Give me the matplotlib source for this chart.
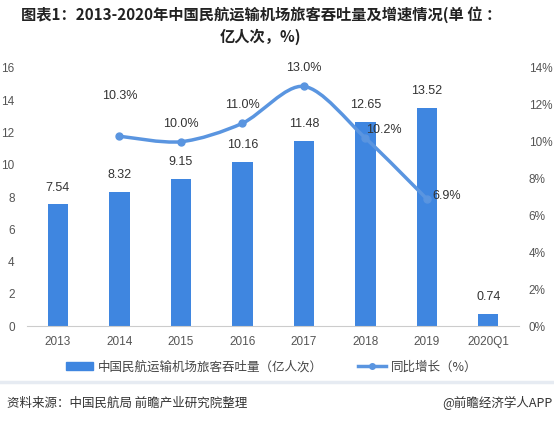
import numpy as np
import matplotlib.pyplot as plt
from matplotlib.path import Path
from matplotlib.patches import PathPatch, Patch
from matplotlib.lines import Line2D

plt.rcParams['font.family'] = ['Noto Sans CJK SC', 'DejaVu Sans']

# 数据
years = ['2013', '2014', '2015', '2016', '2017', '2018', '2019', '2020Q1']
throughput = [7.54, 8.32, 9.15, 10.16, 11.48, 12.65, 13.52, 0.74]
growth_idx = [1, 2, 3, 4, 5, 6]
growth = [10.3, 10.0, 11.0, 13.0, 10.2, 6.9]

BAR_COLOR = '#3f86e0'
LINE_COLOR = '#5a95e0'
TICK_COLOR = '#555555'
NUM_FONT = ['Liberation Sans', 'DejaVu Sans']

fig = plt.figure(figsize=(5.54, 4.22), dpi=100)
ax = fig.add_axes([0.049, 0.227, 0.888, 0.612])
ax2 = ax.twinx()

x = np.arange(len(years))
ax.bar(x, throughput, width=0.33, color=BAR_COLOR, zorder=2)
for xi, v in zip(x, throughput):
    ax.text(xi, v + 1.05, f'{v:.2f}', ha='center', va='center', fontsize=9,
            color='#333333', family=NUM_FONT)

ax.set_xlim(-0.5, len(years) - 0.5)
ax.set_ylim(0, 16)
ax.set_yticks(range(0, 17, 2))
ax.set_xticks(x)
ax.set_xticklabels(years)
ax2.set_ylim(0, 14)
ax2.set_yticks(range(0, 15, 2))
ax2.set_yticklabels([f'{t}%' for t in range(0, 15, 2)])

for a in (ax, ax2):
    for s in a.spines.values():
        s.set_visible(False)
    a.tick_params(length=0, labelsize=8.5, labelcolor=TICK_COLOR)
    for lab in a.get_xticklabels() + a.get_yticklabels():
        lab.set_family(NUM_FONT)
ax.tick_params(axis='x', pad=7)
ax.tick_params(axis='y', pad=9)
ax2.tick_params(axis='y', pad=7)
ax.spines['bottom'].set_visible(True)
ax.spines['bottom'].set_color('#cccccc')

# 平滑曲线 (Catmull-Rom -> Bezier)
pts = np.column_stack([growth_idx, growth]).astype(float)
verts = [tuple(pts[0])]
codes = [Path.MOVETO]
for i in range(len(pts) - 1):
    p0 = pts[i - 1] if i > 0 else pts[i]
    p1, p2 = pts[i], pts[i + 1]
    p3 = pts[i + 2] if i + 2 < len(pts) else pts[i + 1]
    c1 = p1 + (p2 - p0) / 6 * 0.9
    c2 = p2 - (p3 - p1) / 6 * 0.9
    verts += [tuple(c1), tuple(c2), tuple(p2)]
    codes += [Path.CURVE4] * 3
ax2.add_patch(PathPatch(Path(verts, codes), fill=False, edgecolor=LINE_COLOR, lw=2.5, zorder=3))
ax2.plot(growth_idx, growth, 'o', color=LINE_COLOR, ms=5, zorder=4)

offsets = [(0, 2.2), (0, 0.95), (0, 1.0), (0, 1.0), (0.3, 0.45), (0.33, 0.15)]
for (dx, dy), xi, g in zip(offsets, growth_idx, growth):
    ax2.text(xi + dx, g + dy, f'{g:.1f}%', ha='center', va='center', fontsize=9,
             color='#333333', family=NUM_FONT, zorder=5)

fig.text(0.471, 0.965, '图表1：2013-2020年中国民航运输机场旅客吞吐量及增速情况(单 位 ：',
         ha='center', va='center', fontsize=11, fontweight='bold', color='#222222')
fig.text(0.471, 0.912, '亿人次，%)', ha='center', va='center', fontsize=11, fontweight='bold', color='#222222')

handles = [Patch(color=BAR_COLOR), Line2D([], [], color=LINE_COLOR, lw=2.5, marker='o', ms=4)]
labels = ['中国民航运输机场旅客吞吐量（亿人次）', '同比增长（%）']
fig.legend(handles, labels, loc='center', bbox_to_anchor=(0.49, 0.13), ncol=2, frameon=False,
           fontsize=9, handlelength=2.2, handleheight=0.6, handletextpad=0.4,
           columnspacing=2.8, labelcolor='#444444')

fig.add_artist(Line2D([0, 1], [0.095, 0.095], color='#e6ebf2', lw=2.5, transform=fig.transFigure))
fig.text(0.012, 0.045, '资料来源：中国民航局 前瞻产业研究院整理', ha='left', va='center', fontsize=9, color='#333333')
fig.text(0.998, 0.045, '@前瞻经济学人APP', ha='right', va='center', fontsize=9, color='#333333')

fig.savefig('out.png', dpi=100)
